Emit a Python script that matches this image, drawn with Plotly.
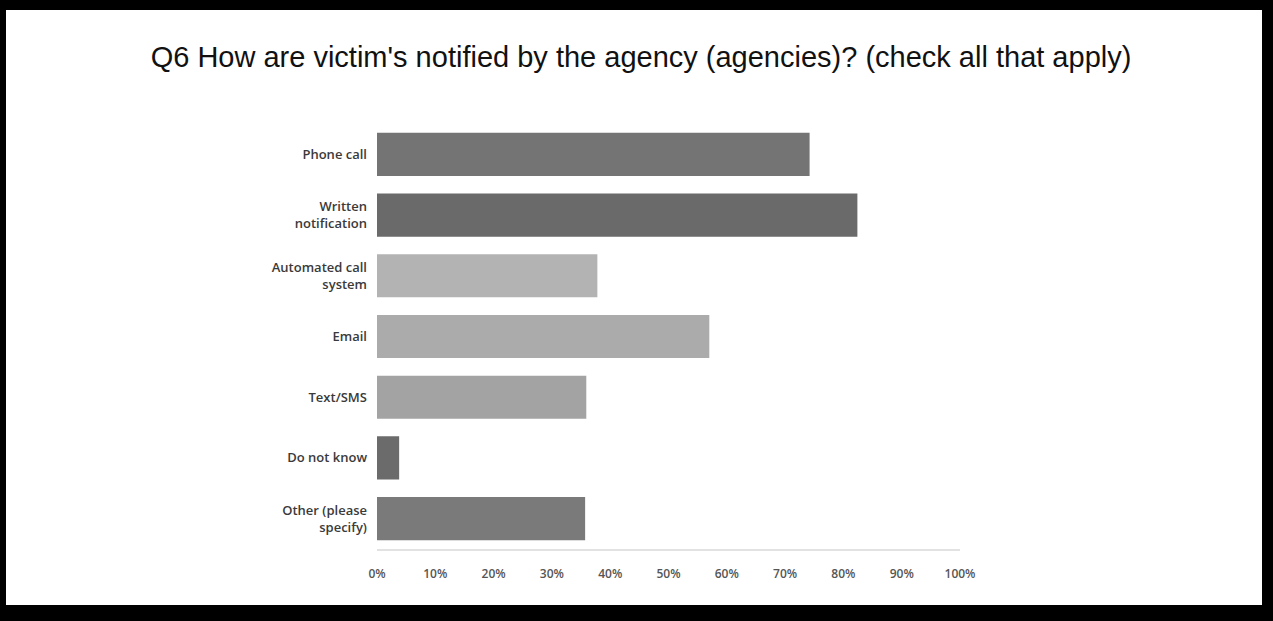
import plotly.graph_objects as go

# Survey answers, top to bottom
categories = [
    "Phone call",
    "Written<br>notification",
    "Automated call<br>system",
    "Email",
    "Text/SMS",
    "Do not know",
    "Other (please<br>specify)",
]
percent = [74.2, 82.4, 37.8, 57.0, 35.9, 3.8, 35.7]
bar_colors = ["#747474", "#6a6a6a", "#b3b3b3", "#ababab", "#a3a3a3", "#6b6b6b", "#7a7a7a"]
tick_values = [0, 10, 20, 30, 40, 50, 60, 70, 80, 90, 100]
tick_labels = ["0%", "10%", "20%", "30%", "40%", "50%", "60%", "70%", "80%", "90%", "100%"]

W, H = 1273, 621
ML, MR, MT, MB = 377, 313, 124, 72
PW, PH = W - ML - MR, H - MT - MB


def px_x(p):
    return (p - ML) / PW


def px_y(p):
    return (H - MB - p) / PH


fig = go.Figure()

fig.add_trace(
    go.Bar(
        y=categories,
        x=percent,
        orientation="h",
        marker=dict(color=bar_colors, line=dict(width=0)),
        showlegend=False,
        hovertemplate="%{x:.1f}%<extra></extra>",
    )
)

# black frame around the picture (pixel boxes)
frame = [(0, 0, W, 10), (0, 605, W, H), (0, 0, 6, H), (1262, 0, W, H)]
shapes = []
for x0, y0, x1, y1 in frame:
    shapes.append(
        dict(
            type="rect",
            xref="paper",
            yref="paper",
            x0=px_x(x0),
            x1=px_x(x1),
            y0=px_y(y1),
            y1=px_y(y0),
            fillcolor="black",
            line=dict(width=0),
            layer="above",
        )
    )

fig.update_layout(
    width=W,
    height=H,
    margin=dict(l=ML, r=MR, t=MT, b=MB),
    paper_bgcolor="white",
    plot_bgcolor="white",
    bargap=0.29,
    shapes=shapes,
    title=dict(
        text="Q6 How are victim's notified by the agency (agencies)? (check all that apply)",
        x=641 / W,
        xanchor="center",
        y=1 - 57 / H,
        yanchor="middle",
        font=dict(family="Liberation Sans, Arial", size=29, color="#111111"),
    ),
    xaxis=dict(
        range=[0, 100],
        tickvals=tick_values,
        ticktext=tick_labels,
        showgrid=False,
        zeroline=False,
        showline=True,
        linecolor="#e2e2e2",
        linewidth=2,
        ticks="",
        ticklabelstandoff=13,
        tickfont=dict(family="Open Sans", size=12, color="#555555", weight=600),
    ),
    yaxis=dict(
        autorange="reversed",
        showgrid=False,
        zeroline=False,
        showline=False,
        ticks="",
        ticklabelstandoff=9,
        tickfont=dict(family="Open Sans", size=13, color="#3a3a3a", weight=600),
    ),
)

# drop the page margin so the figure sits at the window corner
fig.write_html(
    "out.html",
    config={"displayModeBar": False},
    post_script="document.body.style.margin='0';document.body.style.overflow='hidden';",
)
